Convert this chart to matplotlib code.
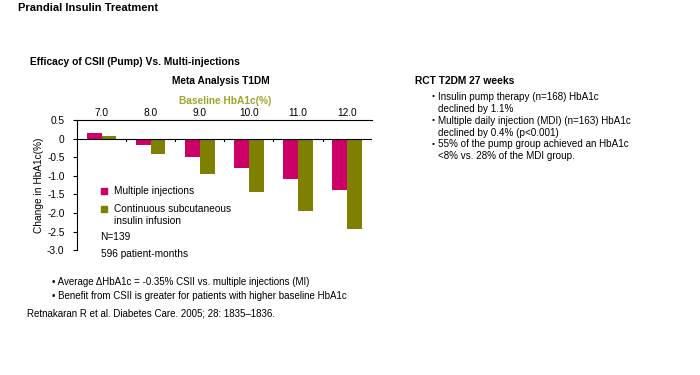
import numpy as np
import matplotlib.pyplot as plt

plt.rcParams['font.family'] = ['Liberation Sans', 'DejaVu Sans']

baseline = ["7.0", "8.0", "9.0", "10.0", "11.0", "12.0"]
mi = [0.16, -0.17, -0.49, -0.79, -1.10, -1.39]
csii = [0.08, -0.42, -0.94, -1.45, -1.94, -2.44]
yticks = [0.5, 0, -0.5, -1.0, -1.5, -2.0, -2.5, -3.0]
ytick_labels = ["0.5", "0", "-0.5", "-1.0", "-1.5", "-2.0", "-2.5", "-3.0"]

MAG = '#cc0066'
OLV = '#808000'

fig = plt.figure(figsize=(7, 3.75), dpi=100)
ax = fig.add_axes([0.11, 0.333, 0.421, 0.347])

x = np.arange(len(baseline))
w = 0.3
ax.bar(x - w/2, mi, w, color=MAG)
ax.bar(x + w/2, csii, w, color=OLV)

ax.set_xlim(-0.5, 5.5)
ax.set_ylim(-3.0, 0.5)
ax.set_yticks(yticks)
ax.set_yticklabels(ytick_labels)
ax.tick_params(axis='y', labelsize=7.3, length=3, width=0.8, pad=6)
ax.set_xticks([])
ax.spines['right'].set_visible(False)
ax.spines['bottom'].set_visible(False)
ax.spines['top'].set_linewidth(0.8)
ax.spines['left'].set_linewidth(0.8)
ax.set_ylabel('Change in HbA1c(%)', fontsize=7.3, labelpad=2)

# zero line with small ticks at group boundaries
ax.axhline(0, color='black', lw=0.8)
for b in np.arange(0.5, 6.0, 1.0):
    ax.plot([b, b], [0, -0.06], color='black', lw=0.8)

# category labels above the axes
for xi, lab in zip(x, baseline):
    ax.text(xi, 0.55, lab, ha='center', va='bottom', fontsize=7.3)

# legend
ax.scatter([0.05], [-1.42], marker='s', s=22, color=MAG)
ax.scatter([0.05], [-1.9], marker='s', s=22, color=OLV)
ax.text(0.25, -1.42, 'Multiple injections', fontsize=7.3, va='center')
ax.text(0.25, -1.9, 'Continuous subcutaneous', fontsize=7.3, va='center')
ax.text(0.25, -2.22, 'insulin infusion', fontsize=7.3, va='center')
ax.text(-0.02, -2.65, 'N=139', fontsize=7.3, va='center')
ax.text(-0.02, -3.1, '596 patient-months', fontsize=7.3, va='center')

fig.text(0.026, 0.978, 'Prandial Insulin Treatment', fontsize=8, fontweight='bold', va='center')
fig.text(0.043, 0.835, 'Efficacy of CSII (Pump) Vs. Multi-injections', fontsize=7.4,
         fontweight='bold', va='center')
fig.text(0.316, 0.785, 'Meta Analysis T1DM', fontsize=7.3, fontweight='bold', va='center',
         ha='center')
fig.text(0.322, 0.73, 'Baseline HbA1c(%)', fontsize=7.3, fontweight='bold', va='center',
         ha='center', color='#a3a32a')

fig.text(0.074, 0.248, '\u2022 Average \u0394HbA1c = -0.35% CSII vs. multiple injections (MI)',
         fontsize=7, va='center')
fig.text(0.074, 0.21, '\u2022 Benefit from CSII is greater for patients with higher baseline HbA1c',
         fontsize=7, va='center')
fig.text(0.039, 0.165, 'Retnakaran R et al. Diabetes Care. 2005; 28: 1835\u20131836.',
         fontsize=7, va='center')

fig.text(0.593, 0.785, 'RCT T2DM 27 weeks', fontsize=7.4, fontweight='bold', va='center')
bullets = [("Insulin pump therapy (n=168) HbA1c", "declined by 1.1%"),
           ("Multiple daily injection (MDI) (n=163) HbA1c", "declined by 0.4% (p<0.001)"),
           ("55% of the pump group achieved an HbA1c", "<8% vs. 28% of the MDI group.")]
for i, (l1, l2) in enumerate(bullets):
    y0 = 0.742 - i * 0.0635
    fig.text(0.617, y0, '\u2022', fontsize=6, va='center')
    fig.text(0.626, y0, l1, fontsize=7.1, va='center')
    fig.text(0.626, y0 - 0.032, l2, fontsize=7.1, va='center')

fig.savefig('out.png', dpi=100, facecolor='white')
